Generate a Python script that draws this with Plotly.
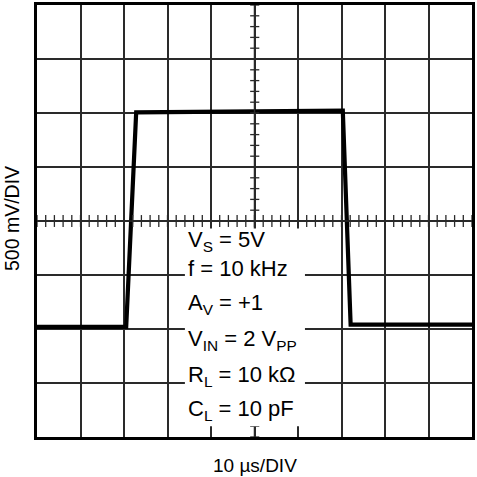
import plotly.graph_objects as go
import numpy as np

# Waveform (time in µs, voltage in V)
time_us = [0, 20.5, 22.8, 70.3, 72.1, 100]
volts = [-0.98, -0.98, 1.006, 1.022, -0.96, -0.96]

conditions = [
    "V<sub>S</sub> = 5V",
    "f = 10 kHz",
    "A<sub>V</sub> = +1",
    "V<sub>IN</sub> = 2 V<sub>PP</sub>",
    "R<sub>L</sub> = 10 kΩ",
    "C<sub>L</sub> = 10 pF",
]
cond_y = [-0.184, -0.441, -0.772, -1.098, -1.434, -1.746]

x_label = "10 µs/DIV"
y_label = "500 mV/DIV"

FONT = "Liberation Sans, Arial, sans-serif"
GRID = "#2a2a2a"

fig = go.Figure()
fig.add_trace(go.Scatter(x=time_us, y=volts, mode="lines",
                         line=dict(color="black", width=4.2), hoverinfo="skip"))

shapes = []
# center axes
shapes.append(dict(type="line", xref="x", yref="y", x0=0, x1=100, y0=0, y1=0,
                   line=dict(color=GRID, width=1.5), layer="above"))
shapes.append(dict(type="line", xref="x", yref="y", x0=50, x1=50, y0=-2, y1=2,
                   line=dict(color=GRID, width=1.5), layer="above"))
# minor ticks on horizontal center axis
for t in np.arange(0, 100.01, 2):
    shapes.append(dict(type="line", xref="x", yref="y", x0=t, x1=t, y0=-0.055, y1=0.055,
                       line=dict(color=GRID, width=1.3), layer="above"))
# minor ticks on vertical center axis
for v in np.arange(-2, 2.001, 0.1):
    shapes.append(dict(type="line", xref="x", yref="y", x0=49.0, x1=51.1, y0=v, y1=v,
                       line=dict(color=GRID, width=1.3), layer="above"))
# white box behind condition text
shapes.append(dict(type="rect", xref="x", yref="y", x0=34.0, x1=61.6, y0=-1.90, y1=-0.07,
                   fillcolor="white", line=dict(width=0), layer="above"))

annotations = []
for txt, yy in zip(conditions, cond_y):
    annotations.append(dict(x=34.2, y=yy, xref="x", yref="y", text=txt, showarrow=False,
                            xanchor="left", yanchor="middle",
                            font=dict(family=FONT, size=22, color="black")))
annotations.append(dict(x=0.5, y=-0.038, xref="paper", yref="paper", text=x_label,
                        showarrow=False, xanchor="center", yanchor="top",
                        font=dict(family=FONT, size=19, color="black")))
annotations.append(dict(x=-0.057, y=0.505, xref="paper", yref="paper", text=y_label,
                        showarrow=False, xanchor="center", yanchor="middle", textangle=-90,
                        font=dict(family=FONT, size=19.5, color="black")))

fig.update_layout(
    width=477, height=477,
    margin=dict(l=37, r=2, t=2, b=40),
    paper_bgcolor="white", plot_bgcolor="white",
    showlegend=False,
    shapes=shapes, annotations=annotations,
    xaxis=dict(range=[0, 100], dtick=10, showticklabels=False, ticks="",
               showgrid=True, gridcolor=GRID, gridwidth=1.5, zeroline=False,
               showline=True, mirror=True, linecolor="black", linewidth=3),
    yaxis=dict(range=[-2, 2], dtick=0.5, showticklabels=False, ticks="",
               showgrid=True, gridcolor=GRID, gridwidth=1.5, zeroline=False,
               showline=True, mirror=True, linecolor="black", linewidth=3),
)

fig.write_html("out.html", config={"displayModeBar": False},
               post_script="document.body.style.margin='0px';")
